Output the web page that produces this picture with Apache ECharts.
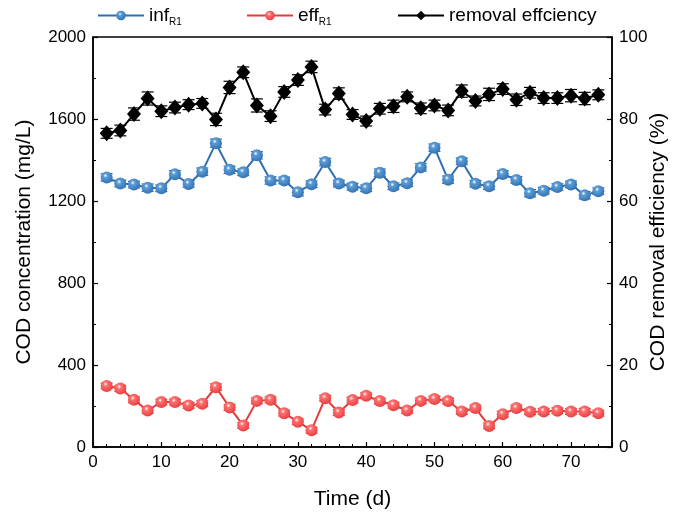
<!DOCTYPE html>
<html><head><meta charset="utf-8">
<script src="https://cdn.jsdelivr.net/npm/echarts@6/dist/echarts.min.js"></script>
<style>html,body{margin:0;padding:0;background:#fff}#c{width:673px;height:519px}</style>
</head><body><div id="c"></div>
<script>
const days = [2,4,6,8,10,12,14,16,18,20,22,24,26,28,30,32,34,36,38,40,42,44,46,48,50,52,54,56,58,60,62,64,66,68,70,72,74];
const infR1 = [1315,1285,1280,1265,1262,1330,1283,1343,1482,1352,1340,1423,1300,1300,1243,1282,1390,1285,1270,1262,1338,1272,1287,1364,1460,1304,1394,1284,1272,1332,1303,1238,1250,1268,1281,1228,1248];
const infErr = [18,16,16,18,16,18,16,18,20,18,16,18,18,16,18,16,18,16,16,16,18,16,16,18,18,18,16,16,16,16,16,18,16,16,16,18,16];
const effR1 = [298,285,230,178,219,219,203,211,292,193,105,225,230,165,123,82,238,168,229,250,224,204,178,225,234,224,173,190,103,160,190,172,173,177,173,173,165];
const effErr = [14,14,14,14,14,14,14,14,16,14,14,14,14,14,14,14,14,14,14,14,14,14,14,14,14,14,14,14,14,14,14,14,14,14,14,14,14];
const removal = [76.5,77.2,81.2,85.0,81.9,82.8,83.5,83.8,79.9,87.7,91.4,83.3,80.7,86.6,89.5,92.7,82.3,86.2,81.1,79.5,82.5,83.1,85.4,82.6,83.3,82.1,86.8,84.4,86.0,87.3,84.7,86.4,85.1,85.1,85.7,85.0,85.9];
const removalErr = [1.2,1.3,1.5,1.6,1.3,1.3,1.2,1.2,1.5,1.5,1.3,1.6,1.3,1.3,1.3,1.4,1.3,1.4,1.2,1.2,1.3,1.5,1.2,1.3,1.3,1.3,1.5,1.2,1.5,1.3,1.4,1.3,1.3,1.3,1.5,1.5,1.2];
const xTicks = [0,10,20,30,40,50,60,70];
const leftTicks = [0,400,800,1200,1600,2000];
const rightTicks = [0,20,40,60,80,100];

const BLUE = '#2f6fb0', RED = '#e43b3b', BLACK = '#000';
function sphere(c, light){
  return {type:'radial', x:0.4, y:0.35, r:0.7, colorStops:[{offset:0,color:'#ffffff'},{offset:0.25,color:light},{offset:1,color:c}]};
}
function errSeries(vals, errs, color, yIdx){
  return {
    type:'custom', yAxisIndex:yIdx, silent:true, z:3,
    data: days.map((d,i)=>[d, vals[i]-errs[i], vals[i]+errs[i]]),
    renderItem: function(params, api){
      const lo = api.coord([api.value(0), api.value(1)]);
      const hi = api.coord([api.value(0), api.value(2)]);
      const w = 6;
      const st = {stroke:color, lineWidth:1.2};
      return {type:'group', children:[
        {type:'line', shape:{x1:lo[0],y1:lo[1],x2:hi[0],y2:hi[1]}, style:st},
        {type:'line', shape:{x1:lo[0]-w,y1:lo[1],x2:lo[0]+w,y2:lo[1]}, style:st},
        {type:'line', shape:{x1:hi[0]-w,y1:hi[1],x2:hi[0]+w,y2:hi[1]}, style:st}
      ]};
    }
  };
}
const FONT = '"Liberation Sans", Arial, sans-serif';
const chart = echarts.init(document.getElementById('c'));
const rich = {n:{fontSize:19,fontFamily:FONT,color:'#000'}, s:{fontSize:10,fontFamily:FONT,color:'#000',verticalAlign:'bottom',padding:[14,0,0,0]}};
function legend(name,left,fmt){
  return {data:[name], left:left, top:1, itemWidth:46, itemHeight:12, itemGap:10,
    textStyle:{fontFamily:FONT,fontSize:19,color:'#000',rich:rich}, formatter:fmt, selectedMode:false};
}
const tickLab = {fontFamily:FONT,fontSize:17,color:'#000',margin:7};
chart.setOption({
  animation:false,
  backgroundColor:'#fff',
  legend:[
    legend('infR1', 92, ()=>'{n|inf}{s|R}{s|1}'),
    legend('effR1', 241, ()=>'{n|eff}{s|R}{s|1}'),
    legend('removal effciency', 392, ()=>'{n|removal effciency}')
  ],
  grid:{left:93,right:61,top:37,bottom:72, show:true, borderColor:'#000', borderWidth:1.5, outerBoundsMode:'none', containLabel:false},
  xAxis:[{
    type:'value', min:0, max:76, interval:10,
    name:'Time (d)', nameLocation:'middle', nameGap:42, nameMoveOverlap:false,
    nameTextStyle:{fontFamily:FONT,fontSize:21,color:'#000'},
    axisLine:{show:true,lineStyle:{color:'#000',width:1.5}},
    axisTick:{show:true,inside:true,length:5,lineStyle:{color:'#000',width:1.2}},
    minorTick:{show:true,splitNumber:5,length:3,lineStyle:{color:'#000',width:1}},
    axisLabel:Object.assign({formatter:v=>xTicks.includes(v)?String(v):''}, tickLab),
    splitLine:{show:false}
  }],
  yAxis:[{
    type:'value', min:0, max:2000, interval:400, position:'left',
    name:'COD concentration (mg/L)', nameLocation:'middle', nameGap:58, nameRotate:90, nameMoveOverlap:false,
    nameTextStyle:{fontFamily:FONT,fontSize:21,color:'#000'},
    axisLine:{show:true,lineStyle:{color:'#000',width:1.5}},
    axisTick:{show:true,inside:true,length:5,lineStyle:{color:'#000',width:1.2}},
    minorTick:{show:true,splitNumber:2,length:3,lineStyle:{color:'#000',width:1}},
    axisLabel:Object.assign({formatter:v=>leftTicks.includes(v)?String(v):''}, tickLab),
    splitLine:{show:false}
  },{
    type:'value', min:0, max:100, interval:20, position:'right',
    name:'COD removal efficiency (%)', nameLocation:'middle', nameGap:36, nameRotate:90, nameMoveOverlap:false,
    nameTextStyle:{fontFamily:FONT,fontSize:21,color:'#000'},
    axisLine:{show:true,lineStyle:{color:'#000',width:1.5}},
    axisTick:{show:true,inside:true,length:5,lineStyle:{color:'#000',width:1.2}},
    minorTick:{show:true,splitNumber:2,length:3,lineStyle:{color:'#000',width:1}},
    axisLabel:Object.assign({formatter:v=>rightTicks.includes(v)?String(v):''}, tickLab),
    splitLine:{show:false}
  }],
  series:[
    errSeries(infR1, infErr, BLUE, 0),
    errSeries(effR1, effErr, RED, 0),
    errSeries(removal, removalErr, BLACK, 1),
    {name:'infR1', type:'line', yAxisIndex:0, z:4, data:days.map((d,i)=>[d,infR1[i]]),
      symbol:'circle', symbolSize:12, lineStyle:{color:BLUE,width:2}, itemStyle:{color:sphere(BLUE,'#5b9bd5'),borderWidth:0}},
    {name:'effR1', type:'line', yAxisIndex:0, z:4, data:days.map((d,i)=>[d,effR1[i]]),
      symbol:'circle', symbolSize:12, lineStyle:{color:RED,width:2}, itemStyle:{color:sphere(RED,'#ff7070'),borderWidth:0}},
    {name:'removal effciency', type:'line', yAxisIndex:1, z:5, data:days.map((d,i)=>[d,removal[i]]),
      symbol:'diamond', symbolSize:[14,16], lineStyle:{color:BLACK,width:2}, itemStyle:{color:BLACK}}
  ]
});
</script></body></html>
